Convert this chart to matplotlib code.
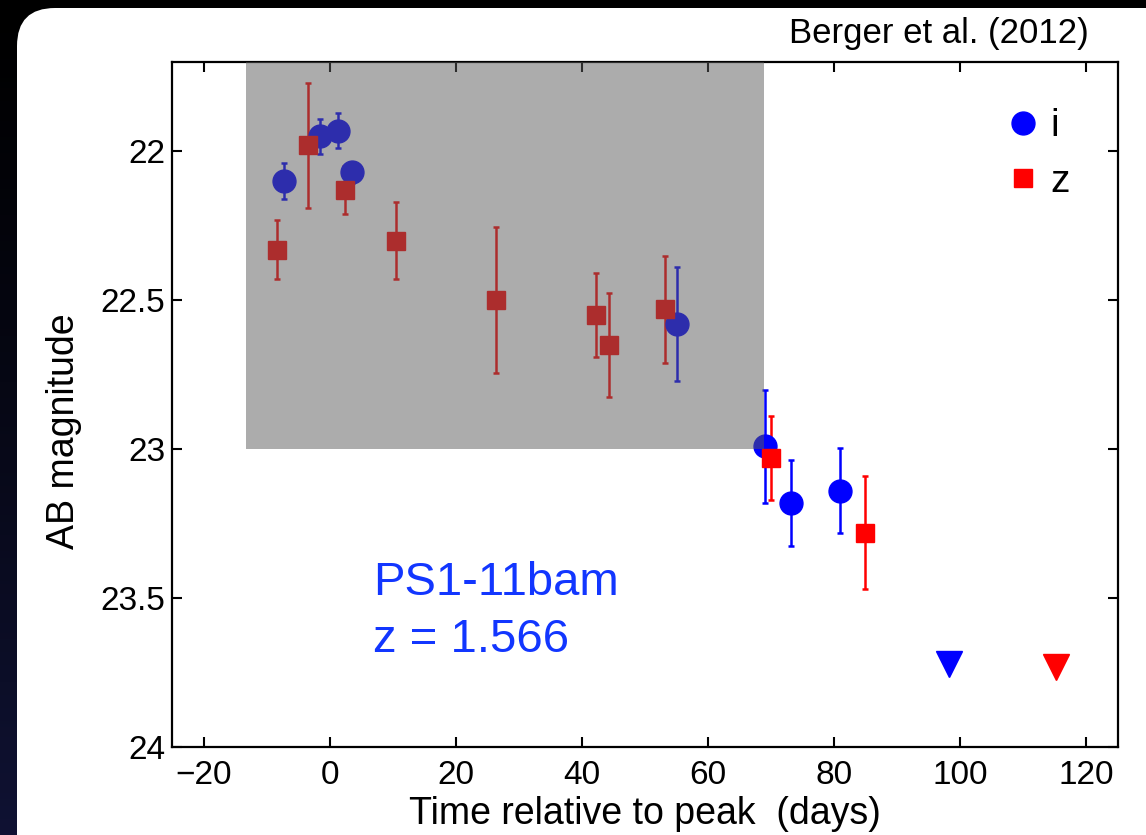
import matplotlib
matplotlib.use("Agg")
import matplotlib.pyplot as plt
import numpy as np
from matplotlib.patches import Rectangle, FancyBboxPatch
from matplotlib.lines import Line2D

plt.rcParams['font.family'] = ['Liberation Sans', 'DejaVu Sans']

# i-band detections: days from peak, AB magnitude, 1-sigma error
i_days = [-7.3, -1.5, 1.4, 3.6, 55.1, 69.1, 73.1, 80.9]
i_mag = [22.10, 21.95, 21.93, 22.07, 22.58, 22.99, 23.18, 23.14]
i_err = [0.06, 0.058, 0.058, 0.035, 0.19, 0.19, 0.145, 0.143]

# z-band detections
z_days = [-8.4, -3.4, 2.5, 10.5, 26.4, 42.2, 44.3, 53.2, 70.0, 84.9]
z_mag = [22.33, 21.98, 22.13, 22.30, 22.50, 22.55, 22.65, 22.53, 23.03, 23.28]
z_err = [0.10, 0.21, 0.08, 0.13, 0.245, 0.14, 0.175, 0.18, 0.14, 0.19]

# upper limits
i_lim_day, i_lim_mag = [98.2], [23.72]
z_lim_day, z_lim_mag = [115.2], [23.73]

# shaded window (days, faint magnitude limit)
shade_days = (-13.3, 68.9)
shade_mag = 23.0

xticks = [-20, 0, 20, 40, 60, 80, 100, 120]
yticks = [22, 22.5, 23, 23.5, 24]
ytick_labels = ['22', '22.5', '23', '23.5', '24']

W, H = 1146, 835
fig = plt.figure(figsize=(W / 100, H / 100), dpi=100)

# dark backdrop with the white rounded card
bg = fig.add_axes([0, 0, 1, 1])
grad = np.linspace(0, 1, 256)[:, None] ** 1.2
cols = np.zeros((256, 1, 3))
cols[:, 0, 0] = 0.06 * grad[:, 0]
cols[:, 0, 1] = 0.07 * grad[:, 0]
cols[:, 0, 2] = 0.20 * grad[:, 0]
bg.imshow(cols, extent=[0, W, H, 0], aspect='auto')
bg.add_patch(FancyBboxPatch((17, 8), 1180, 880, boxstyle="round,pad=0,rounding_size=38",
                            facecolor='white', edgecolor='none'))
bg.set_xlim(0, W)
bg.set_ylim(H, 0)
bg.axis('off')

ax = fig.add_axes([172 / W, 1 - 747 / H, 946 / W, 685 / H])
ax.set_facecolor('white')

blue = '#0000ff'
red = '#ff0000'
ax.errorbar(i_days, i_mag, yerr=i_err, fmt='o', color=blue, ms=16.5, mec=blue,
            elinewidth=1.8, capsize=2, capthick=1.8, zorder=3)
ax.errorbar(z_days, z_mag, yerr=z_err, fmt='s', color=red, ms=13.5, mec=red,
            elinewidth=1.8, capsize=2, capthick=1.8, zorder=3)
ax.plot(i_lim_day, i_lim_mag, 'v', color=blue, ms=19, zorder=3)
ax.plot(z_lim_day, z_lim_mag, 'v', color=red, ms=19, zorder=3)

# translucent grey window drawn over the early points
ax.add_patch(Rectangle((shade_days[0], 20.0), shade_days[1] - shade_days[0], shade_mag - 20.0,
                       facecolor='#5b5b5b', alpha=0.5, edgecolor='none', zorder=5))

ax.set_xlim(-25, 125)
ax.set_ylim(24, 21.7)
ax.set_xticks(xticks)
ax.set_xticklabels(['\u221220'] + [str(t) for t in xticks[1:]])
ax.set_yticks(yticks)
ax.set_yticklabels(ytick_labels)
ax.tick_params(direction='in', length=7, width=1.5, labelsize=24, top=True, right=True)
ax.tick_params(axis='x', pad=9)
ax.tick_params(axis='y', pad=5)
for s in ax.spines.values():
    s.set_linewidth(1.6)

ax.set_xlabel('Time relative to peak  (days)', fontsize=27, labelpad=4)
ax.set_ylabel('AB magnitude', fontsize=27)
ax.yaxis.set_label_coords(-0.095, 0.461)

ax.text(0.2125, 0.2219, 'PS1-11bam', transform=ax.transAxes, color='#1236ff',
        fontsize=34, va='baseline', ha='left')
ax.text(0.2125, 0.1387, 'z = 1.566', transform=ax.transAxes, color='#1236ff',
        fontsize=34, va='baseline', ha='left')

handles = [Line2D([], [], marker='o', ls='none', color=blue, ms=16.5),
           Line2D([], [], marker='s', ls='none', color=red, ms=13.5)]
ax.legend(handles, ['i', 'z'], loc='upper right', bbox_to_anchor=(0.965, 0.955),
          frameon=False, fontsize=28, handlelength=1.0, handletextpad=0.2,
          labelspacing=0.5, borderaxespad=0)

fig.text(1089 / W, 1 - 43 / H, 'Berger et al. (2012)', fontsize=25, ha='right', va='baseline')

fig.savefig('out.png', dpi=100)
